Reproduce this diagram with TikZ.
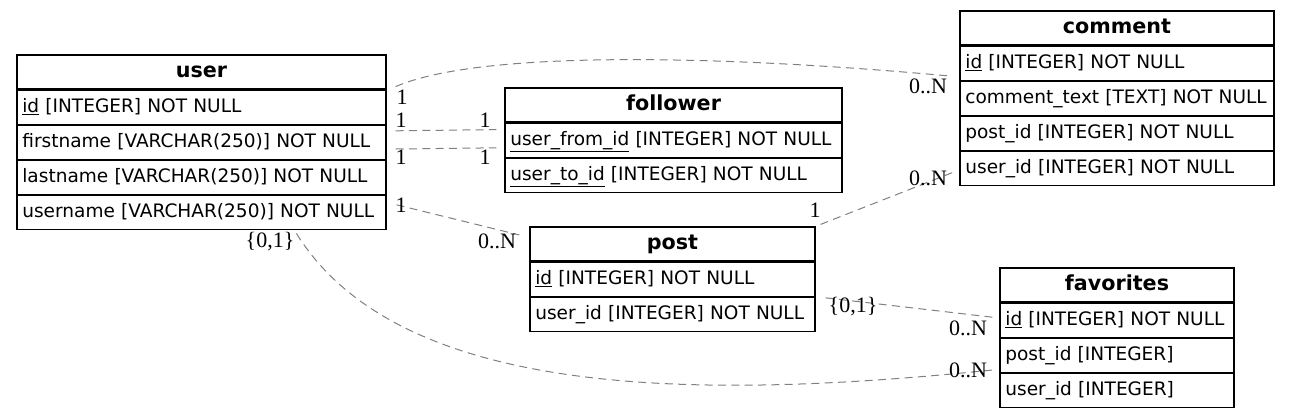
\documentclass[tikz,border=0pt]{standalone}
\usepackage{fontspec}
\setmainfont{DejaVu Sans}
\newfontfamily\lblfont{Liberation Serif}
\usetikzlibrary{calc}
\begin{document}
\begin{tikzpicture}[x=0.75pt,y=-0.75pt,
 tbl/.style={draw=black, line width=0.9pt, rectangle, inner xsep=4pt, inner ysep=0pt, minimum height=25.5pt},
 hdr/.style={tbl, align=center, text width=#1, text height=0.94em, text depth=0.14em, font=\fontsize{15.5}{17}\selectfont\bfseries},
 fld/.style={tbl, align=left, text width=#1, text height=0.95em, text depth=0.22em, font=\fontsize{13.9}{16}\selectfont},
 rel/.style={draw=gray, line width=0.75pt, dash pattern=on 6pt off 4pt},
 card/.style={font=\lblfont\fontsize{16.5}{17}\selectfont, inner sep=0pt}]
\useasboundingbox (0,0) rectangle (1291,415);
% user
\node[hdr=268.75pt] (user-h) at (201.5,72) {user};
\node[fld=268.75pt, anchor=north] (user-1) at (user-h.south) {\underline{id} [INTEGER] NOT NULL};
\node[fld=268.75pt, anchor=north] (user-2) at (user-1.south) {firstname [VARCHAR(250)] NOT NULL};
\node[fld=268.75pt, anchor=north] (user-3) at (user-2.south) {lastname [VARCHAR(250)] NOT NULL};
\node[fld=268.75pt, anchor=north] (user-4) at (user-3.south) {username [VARCHAR(250)] NOT NULL};
% follower
\node[hdr=244.75pt] (fol-h) at (673.5,105) {follower};
\node[fld=244.75pt, anchor=north] (fol-1) at (fol-h.south) {\underline{user\_from\_id} [INTEGER] NOT NULL};
\node[fld=244.75pt, anchor=north] (fol-2) at (fol-1.south) {\underline{user\_to\_id} [INTEGER] NOT NULL};
% comment
\node[hdr=227.5pt] (com-h) at (1117,28) {comment};
\node[fld=227.5pt, anchor=north] (com-1) at (com-h.south) {\underline{id} [INTEGER] NOT NULL};
\node[fld=227.5pt, anchor=north] (com-2) at (com-1.south) {comment\_text [TEXT] NOT NULL};
\node[fld=227.5pt, anchor=north] (com-3) at (com-2.south) {post\_id [INTEGER] NOT NULL};
\node[fld=227.5pt, anchor=north] (com-4) at (com-3.south) {user\_id [INTEGER] NOT NULL};
% post
\node[hdr=205.75pt] (post-h) at (672.5,244) {post};
\node[fld=205.75pt, anchor=north] (post-1) at (post-h.south) {\underline{id} [INTEGER] NOT NULL};
\node[fld=205.75pt, anchor=north] (post-2) at (post-1.south) {user\_id [INTEGER] NOT NULL};
% favorites
\node[hdr=167.5pt] (fav-h) at (1117,285) {favorites};
\node[fld=167.5pt, anchor=north] (fav-1) at (fav-h.south) {\underline{id} [INTEGER] NOT NULL};
\node[fld=167.5pt, anchor=north] (fav-2) at (fav-1.south) {post\_id [INTEGER]};
\node[fld=167.5pt, anchor=north] (fav-3) at (fav-2.south) {user\_id [INTEGER]};
% connectors
\coordinate (c1a) at ($(user-1.north east)+(9,-3)$);
\coordinate (c1b) at ($(com-2.north west)+(-12,-5)$);
\draw[rel] (c1a) .. controls (480,50) and (720,55) .. (c1b);
\draw[rel] ($(user-2.north east)+(9,6)$) -- ($(fol-1.north west)+(-8,7)$);
\draw[rel] ($(user-2.south east)+(9,-11)$) -- ($(fol-1.south west)+(-8,-10)$);
\draw[rel] ($(user-4.east)+(10,-8)$) -- ($(post-h.west)+(-10,-9)$);
\draw[rel] ($(post-h.north east)+(5,-2)$) -- ($(com-4.west)+(-5,3)$);
\draw[rel] ($(post-2.north east)+(10,1)$) -- ($(fav-1.west)+(-7,-3)$);
\draw[rel] ($(user-4.south west)+(280,3)$) .. controls (400,400) and (700,400) .. ($(fav-3.north west)+(-7,-3)$);
% cardinalities
\node[card] (l1a) at (402,97) {1};
\node[card] (l1b) at (928,86) {0..N};
\node[card] (l2a) at (401,120) {1};
\node[card] (l2b) at (485,120) {1};
\node[card] (l3a) at (401,157) {1};
\node[card] (l3b) at (485,157) {1};
\node[card] (l4a) at (401,205) {1};
\node[card] (l4b) at (497,241) {0..N};
\node[card] (l5a) at (815,210) {1};
\node[card] (l5b) at (928,178) {0..N};
\node[card] (l6a) at (853,307) {\{0,1\}};
\node[card] (l6b) at (968,328) {0..N};
\node[card] (l7a) at (270,242) {\{0,1\}};
\node[card] (l7b) at (968,370) {0..N};
\end{tikzpicture}
\end{document}
